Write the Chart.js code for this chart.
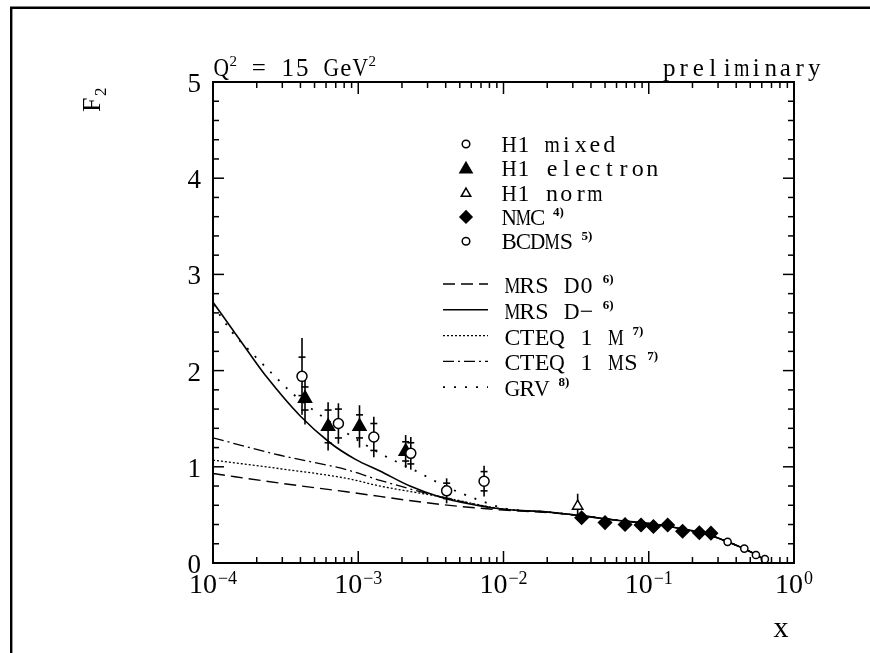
<!DOCTYPE html>
<html><head><meta charset="utf-8">
<script src="https://cdn.jsdelivr.net/npm/chart.js@4/dist/chart.umd.min.js"></script>
<style>html,body{margin:0;padding:0;background:#fff;}canvas{display:block;}</style>
</head><body>
<canvas id="c" width="870" height="653"></canvas>
<script>
// ---------- data ----------
const h1MixedX     = [4.1e-4, 7.3e-4, 1.28e-3, 2.3e-3, 4.06e-3, 7.35e-3];
const h1MixedY     = [1.94, 1.45, 1.31, 1.14, 0.75, 0.85];
const h1MixedErr   = [0.40, 0.21, 0.21, 0.17, 0.13, 0.16];
const h1MixedStat  = [0.20, 0.15, 0.14, 0.11, 0.08, 0.10];

const h1ElectronX    = [4.3e-4, 6.2e-4, 1.02e-3, 2.12e-3];
const h1ElectronY    = [1.71, 1.42, 1.42, 1.16];
const h1ElectronErr  = [0.27, 0.25, 0.22, 0.17];
const h1ElectronStat = [0.12, 0.17, 0.12, 0.10];

const h1NormX    = [0.0324];
const h1NormY    = [0.59];
const h1NormErr  = [0.13];
const h1NormStat = [0.0];

const nmcX = [0.0345, 0.050, 0.0687, 0.0885, 0.1077, 0.135, 0.171, 0.223, 0.268];
const nmcY = [0.47, 0.42, 0.40, 0.395, 0.38, 0.395, 0.33, 0.315, 0.31];

const bcdmsX = [0.349, 0.455, 0.547, 0.63];
const bcdmsY = [0.22, 0.15, 0.083, 0.04];

const mrsDminusX = [1e-4, 1.373e-4, 1.798e-4, 2.353e-4, 3.972e-4, 6.39e-4, 9.5e-4, 1.411e-3, 2.27e-3, 3.655e-3, 5.88e-3, 1e-2, 0.02, 0.035, 0.06, 0.1, 0.17, 0.25, 0.35, 0.45, 0.55, 0.65];
const mrsDminusY = [2.71, 2.42, 2.17, 1.93, 1.53, 1.25, 1.08, 0.956, 0.80, 0.686, 0.613, 0.558, 0.53, 0.49, 0.445, 0.41, 0.355, 0.30, 0.22, 0.15, 0.085, 0.02];

const mrsD0X = [1e-4, 2.9e-4, 8.3e-4, 3.65e-3, 1e-2, 0.02, 0.035, 0.06, 0.1, 0.17, 0.25, 0.35, 0.45, 0.55, 0.65];
const mrsD0Y = [0.93, 0.83, 0.74, 0.61, 0.55, 0.525, 0.49, 0.445, 0.41, 0.355, 0.30, 0.22, 0.15, 0.085, 0.02];

const cteqMX = [1e-4, 2.9e-4, 8.3e-4, 1.41e-3, 3.65e-3, 1e-2, 0.02, 0.035, 0.06, 0.1, 0.17, 0.25, 0.35, 0.45, 0.55, 0.65];
const cteqMY = [1.07, 0.98, 0.88, 0.80, 0.69, 0.56, 0.53, 0.49, 0.445, 0.41, 0.355, 0.30, 0.22, 0.15, 0.085, 0.02];

const cteqMSX = [1e-4, 2.9e-4, 8.3e-4, 1.41e-3, 3.65e-3, 1e-2, 0.02, 0.035, 0.06, 0.1, 0.17, 0.25, 0.35, 0.45, 0.55, 0.65];
const cteqMSY = [1.30, 1.12, 0.97, 0.86, 0.69, 0.56, 0.53, 0.49, 0.445, 0.41, 0.355, 0.30, 0.22, 0.15, 0.085, 0.02];

const grvX = [1e-4, 1.37e-4, 1.75e-4, 2.75e-4, 3.48e-4, 4.9e-4, 1.41e-3, 2.4e-3, 4.07e-3, 6.9e-3, 1e-2, 0.02, 0.035, 0.06, 0.1, 0.17, 0.25, 0.35, 0.45, 0.55, 0.65];
const grvY = [2.68, 2.39, 2.22, 1.92, 1.77, 1.59, 1.14, 0.97, 0.79, 0.65, 0.57, 0.53, 0.49, 0.445, 0.41, 0.355, 0.30, 0.22, 0.15, 0.085, 0.02];

// ---------- tick labels & texts ----------
const xTickValues = [1e-4, 1e-3, 1e-2, 1e-1, 1];
const xTickBase = '10';
const xTickExponents = ['\u22124', '\u22123', '\u22122', '\u22121', '0'];
const yTickValues = [0, 1, 2, 3, 4, 5];
const yTickLabels = ['0', '1', '2', '3', '4', '5'];
const markerLegendNames = ['H1 mixed', 'H1 electron', 'H1 norm', 'NMC', 'BCDMS'];
const markerLegendRefs  = ['', '', '', '4)', '5)'];
const lineLegendNames = ['MRS D0', 'MRS D\u2212', 'CTEQ 1 M', 'CTEQ 1 MS', 'GRV'];
const lineLegendRefs  = ['6)', '6)', '7)', '7)', '8)'];

// ---------- helpers ----------
const zip = (xs, ys) => xs.map((x, i) => ({x: x, y: ys[i]}));
const SERIF = '"Liberation Serif", "DejaVu Serif", serif';

const lineStyles = [
  {dash: [12, 6], width: 1.4},          // MRS D0
  {dash: [], width: 1.6},               // MRS D-
  {dash: [2, 2], width: 1.3},           // CTEQ 1 M
  {dash: [11, 4, 2, 4], width: 1.3},    // CTEQ 1 MS
  {dash: [2, 9], width: 1.8}            // GRV
];
const curveXs = [mrsD0X, mrsDminusX, cteqMX, cteqMSX, grvX];
const curveYs = [mrsD0Y, mrsDminusY, cteqMY, cteqMSY, grvY];

const markerStyles = [
  {style: 'circle',   r: 5,   fill: '#fff', stroke: '#000'},
  {style: 'triangle', r: 7.5, fill: '#000', stroke: '#000'},
  {style: 'triangle', r: 6,   fill: '#fff', stroke: '#000'},
  {style: 'rectRot',  r: 6.5, fill: '#000', stroke: '#000'},
  {style: 'circle',   r: 3.6, fill: '#fff', stroke: '#000'}
];
const markerXs = [h1MixedX, h1ElectronX, h1NormX, nmcX, bcdmsX];
const markerYs = [h1MixedY, h1ElectronY, h1NormY, nmcY, bcdmsY];

const datasets = [];
markerXs.forEach((xs, i) => {
  const m = markerStyles[i];
  datasets.push({
    label: markerLegendNames[i], data: zip(xs, markerYs[i]), showLine: false,
    pointStyle: m.style, pointRadius: m.r, pointBackgroundColor: m.fill,
    pointBorderColor: m.stroke, pointBorderWidth: 1.5, order: 0, clip: false
  });
});
curveXs.forEach((xs, i) => {
  const s = lineStyles[i];
  datasets.push({
    label: lineLegendNames[i], data: zip(xs, curveYs[i]), showLine: true,
    pointRadius: 0, borderColor: '#000', borderWidth: s.width, borderDash: s.dash,
    cubicInterpolationMode: 'monotone', fill: false, order: 1
  });
});

function drawMarker(ctx, style, x, y, r, fill, stroke) {
  ctx.save();
  ctx.beginPath();
  if (style === 'circle') {
    ctx.arc(x, y, r, 0, Math.PI * 2);
  } else if (style === 'triangle') {
    ctx.moveTo(x, y - r);
    ctx.lineTo(x + r * Math.sin(Math.PI / 3), y + r / 2);
    ctx.lineTo(x - r * Math.sin(Math.PI / 3), y + r / 2);
    ctx.closePath();
  } else if (style === 'rectRot') {
    ctx.moveTo(x, y - r); ctx.lineTo(x + r, y); ctx.lineTo(x, y + r); ctx.lineTo(x - r, y);
    ctx.closePath();
  }
  ctx.fillStyle = fill; ctx.fill();
  ctx.lineWidth = 1.5; ctx.strokeStyle = stroke; ctx.stroke();
  ctx.restore();
}

// typewriter-like text: serif glyphs on a fixed advance
function monoText(ctx, str, x, baseline, size, adv) {
  ctx.save();
  ctx.font = size + 'px ' + SERIF;
  ctx.textAlign = 'center';
  ctx.textBaseline = 'alphabetic';
  ctx.fillStyle = '#000';
  for (let i = 0; i < str.length; i++) {
    ctx.fillText(str[i], x + adv * (i + 0.5), baseline, adv + 1);
  }
  ctx.restore();
  return x + adv * str.length;
}
function supText(ctx, str, x, baseline, size, bold) {
  ctx.save();
  ctx.font = (bold ? 'bold ' : '') + size + 'px ' + SERIF;
  ctx.textAlign = 'left';
  ctx.textBaseline = 'alphabetic';
  ctx.fillStyle = '#000';
  ctx.fillText(str, x, baseline);
  const w = ctx.measureText(str).width;
  ctx.restore();
  return x + w;
}

const errorBarPlugin = {
  id: 'errorBars',
  beforeDatasetsDraw(chart) {
    const ctx = chart.ctx, xs = chart.scales.x, ys = chart.scales.y;
    const groups = [
      [h1MixedX, h1MixedY, h1MixedErr, h1MixedStat],
      [h1ElectronX, h1ElectronY, h1ElectronErr, h1ElectronStat],
      [h1NormX, h1NormY, h1NormErr, h1NormStat]
    ];
    ctx.save();
    ctx.strokeStyle = '#000';
    ctx.lineWidth = 1.6;
    groups.forEach(g => {
      g[0].forEach((xv, i) => {
        const px = xs.getPixelForValue(xv);
        const yv = g[1][i];
        ctx.beginPath();
        ctx.moveTo(px, ys.getPixelForValue(yv + g[2][i]));
        ctx.lineTo(px, ys.getPixelForValue(yv - g[2][i]));
        ctx.stroke();
        if (g[3][i] > 0) {
          [yv + g[3][i], yv - g[3][i]].forEach(v => {
            const py = ys.getPixelForValue(v);
            ctx.beginPath(); ctx.moveTo(px - 3.5, py); ctx.lineTo(px + 3.5, py); ctx.stroke();
          });
        }
      });
    });
    ctx.restore();
  }
};

const framePlugin = {
  id: 'frame',
  afterDraw(chart) {
    const ctx = chart.ctx, a = chart.chartArea, xs = chart.scales.x, ys = chart.scales.y;
    ctx.save();
    ctx.strokeStyle = '#000';
    // outer border (top + left)
    ctx.lineWidth = 2.4;
    ctx.beginPath(); ctx.moveTo(11.2, 653); ctx.lineTo(11.2, 7.8); ctx.lineTo(870, 7.8); ctx.stroke();
    // plot frame
    ctx.lineWidth = 2;
    ctx.strokeRect(a.left, a.top, a.right - a.left, a.bottom - a.top);
    // x ticks (log)
    ctx.lineWidth = 1.5;
    for (let d = -4; d <= 0; d++) {
      for (let k = 1; k <= 9; k++) {
        const v = k * Math.pow(10, d);
        if (v > 1.0000001) break;
        const px = xs.getPixelForValue(v);
        const len = (k === 1) ? 12 : 6;
        ctx.beginPath(); ctx.moveTo(px, a.bottom); ctx.lineTo(px, a.bottom - len); ctx.stroke();
        ctx.beginPath(); ctx.moveTo(px, a.top); ctx.lineTo(px, a.top + len); ctx.stroke();
      }
    }
    // y ticks
    for (let i = 0; i <= 25; i++) {
      const v = i * 0.2;
      const py = ys.getPixelForValue(v);
      const len = (i % 5 === 0) ? 11 : 6;
      ctx.beginPath(); ctx.moveTo(a.left, py); ctx.lineTo(a.left + len, py); ctx.stroke();
      ctx.beginPath(); ctx.moveTo(a.right, py); ctx.lineTo(a.right - len, py); ctx.stroke();
    }
    // y tick labels
    ctx.fillStyle = '#000';
    ctx.font = '27px ' + SERIF;
    ctx.textAlign = 'right';
    ctx.textBaseline = 'middle';
    yTickValues.forEach((v, i) => {
      ctx.fillText(yTickLabels[i], a.left - 12, ys.getPixelForValue(v) + 3);
    });
    // x tick labels: 10 with superscript exponent
    ctx.textBaseline = 'alphabetic';
    ctx.textAlign = 'left';
    xTickValues.forEach((v, i) => {
      const px = xs.getPixelForValue(v);
      ctx.font = '28px ' + SERIF;
      const wb = ctx.measureText(xTickBase).width;
      ctx.font = '18px ' + SERIF;
      const we = ctx.measureText(xTickExponents[i]).width;
      const x0 = px - (wb + we + 1) / 2;
      ctx.font = '28px ' + SERIF;
      ctx.fillText(xTickBase, x0, a.bottom + 30);
      ctx.font = '18px ' + SERIF;
      ctx.fillText(xTickExponents[i], x0 + wb + 1, a.bottom + 21);
    });
    // title texts
    let cx = monoText(ctx, 'Q', 214, 76, 25, 14.5);
    cx = supText(ctx, '2', cx + 1, 66, 15, false);
    cx = monoText(ctx, ' = 15 GeV', cx, 76, 25, 14.5);
    supText(ctx, '2', cx + 1, 66, 15, false);
    monoText(ctx, 'preliminary', 662, 76, 25, 14.5);
    // axis titles
    ctx.save();
    ctx.translate(100, 100);
    ctx.rotate(-Math.PI / 2);
    ctx.font = '26px ' + SERIF;
    ctx.textAlign = 'left';
    ctx.fillText('F', -12, 0);
    ctx.font = '17px ' + SERIF;
    ctx.fillText('2', 4, 6);
    ctx.restore();
    ctx.font = '30px ' + SERIF;
    ctx.textAlign = 'center';
    ctx.fillText('x', 781, 637);
    // marker legend
    markerLegendNames.forEach((name, i) => {
      const m = markerStyles[i];
      const cy = 144 + i * 24.3;
      const r = (i === 1) ? 7 : (i === 2 ? 5.5 : (i === 3 ? 6 : 3.8));
      drawMarker(ctx, m.style, 466, cy + (m.style === 'triangle' ? 1 : 0), r, m.fill, m.stroke);
      const end = monoText(ctx, name, 502, cy + 8, 24, 14.3);
      if (markerLegendRefs[i]) supText(ctx, markerLegendRefs[i], end + 8, cy - 1, 13, true);
    });
    // line legend
    lineLegendNames.forEach((name, i) => {
      const s = lineStyles[i];
      const ly = 284 + i * 25.8;
      ctx.save();
      ctx.lineWidth = s.width;
      ctx.setLineDash(s.dash);
      ctx.beginPath(); ctx.moveTo(443, ly); ctx.lineTo(488, ly); ctx.stroke();
      ctx.restore();
      const end = monoText(ctx, name, 505, ly + 9, 24, 14.8);
      supText(ctx, lineLegendRefs[i], end + 9, ly - 1, 13, true);
    });
    ctx.restore();
  }
};

new Chart(document.getElementById('c').getContext('2d'), {
  type: 'scatter',
  data: {datasets: datasets},
  options: {
    responsive: false,
    animation: false,
    devicePixelRatio: 1,
    events: [],
    layout: {padding: {left: 213, top: 82, right: 76, bottom: 90}},
    plugins: {legend: {display: false}, tooltip: {enabled: false}},
    scales: {
      x: {type: 'logarithmic', min: 1e-4, max: 1, display: false},
      y: {type: 'linear', min: 0, max: 5, display: false}
    }
  },
  plugins: [errorBarPlugin, framePlugin]
});
</script>
</body></html>
